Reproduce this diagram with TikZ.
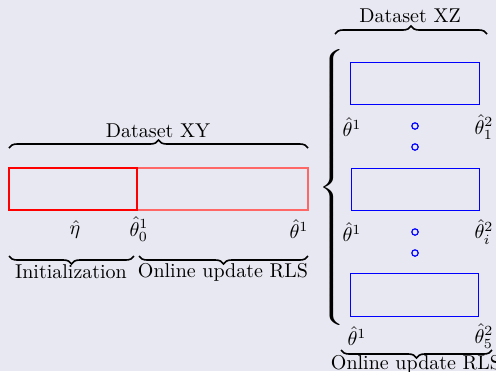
\documentclass[tikz,border=0pt]{standalone}
\usetikzlibrary{decorations.pathreplacing,fit,calc}
\usepackage{graphicx}
\definecolor{bg}{RGB}{232,232,242}
\begin{document}
\begin{tikzpicture}[x=0.5pt,y=-0.5pt,
  redbox/.style={draw=red,line width=0.6pt,inner sep=0pt},
  lightredbox/.style={draw=red!60,line width=0.6pt,inner sep=0pt},
  bluebox/.style={draw=blue,line width=0.5pt,inner sep=0pt},
  bdot/.style={circle,draw=blue,line width=0.6pt,minimum size=3.2pt,inner sep=0pt},
  upbrace/.style={decorate,decoration={brace,amplitude=4pt},line width=0.8pt},
  downbrace/.style={decorate,decoration={brace,amplitude=4pt,mirror},line width=0.8pt},
  lbl/.style={inner sep=0pt}]
\fill[bg] (0,0) rectangle (496,371);
\useasboundingbox (0,0) rectangle (496,371);

% Dataset XY: initialization part and online update part
\node[lightredbox,fit={(137,168) (308,210)}] (onl) {};
\node[redbox,fit={(9,168) (137,210)}] (init) {};

\coordinate (xyl) at (9,148);
\coordinate (xyr) at (308,148);
\draw[upbrace] (xyl) -- (xyr);
\node[lbl] (xylab) at (158,131) {Dataset XY};

\node[lbl] (eta) at (75,229) {$\hat{\eta}$};
\node[lbl] (th01) at (139,229) {$\hat{\theta}^1_0$};
\node[lbl] (th1a) at (299,229) {$\hat{\theta}^1$};

\coordinate (il) at (9,256);
\coordinate (ir) at (134,256);
\coordinate (ol) at (139,256);
\coordinate (or) at (308,256);
\draw[downbrace] (il) -- (ir);
\draw[downbrace] (ol) -- (or);
\node[lbl] (initlab) at (71,272) {Initialization};
\node[lbl] (onllab) at (223,272) {Online update RLS};

% Dataset XZ: the three runs
\node[bluebox,fit={(350,62) (479,104)}] (b1) {};
\node[bluebox,fit={(351,168) (479,210)}] (b2) {};
\node[bluebox,fit={(350,273) (478,316)}] (b3) {};

\node[lbl] (t1a) at (352,127) {$\hat{\theta}^1$};
\node[lbl] (t1b) at (484,127) {$\hat{\theta}^2_1$};
\node[lbl] (t2a) at (352,232) {$\hat{\theta}^1$};
\node[lbl] (t2b) at (484,232) {$\hat{\theta}^2_i$};
\node[lbl] (t3a) at (357,336) {$\hat{\theta}^1$};
\node[lbl] (t3b) at (484,336) {$\hat{\theta}^2_5$};

\node[bdot] (d1) at (415,126) {};
\node[bdot] (d2) at (415,147) {};
\node[bdot] (d3) at (415,232) {};
\node[bdot] (d4) at (415,253) {};

\coordinate (xzl) at (335,34);
\coordinate (xzr) at (487,34);
\draw[upbrace] (xzl) -- (xzr);
\node[lbl] (xzlab) at (410,16) {Dataset XZ};

\node[lbl] (bigbrace) at (334,190) {\scalebox{1.5}[1]{$\left\{\vrule height 69pt depth 69pt width 0pt\right.$}};

\coordinate (rl) at (341,350);
\coordinate (rr) at (492,350);
\draw[downbrace] (rl) -- (rr);
\node[lbl] (rlab) at (416,364) {Online update RLS};
\end{tikzpicture}
\end{document}
